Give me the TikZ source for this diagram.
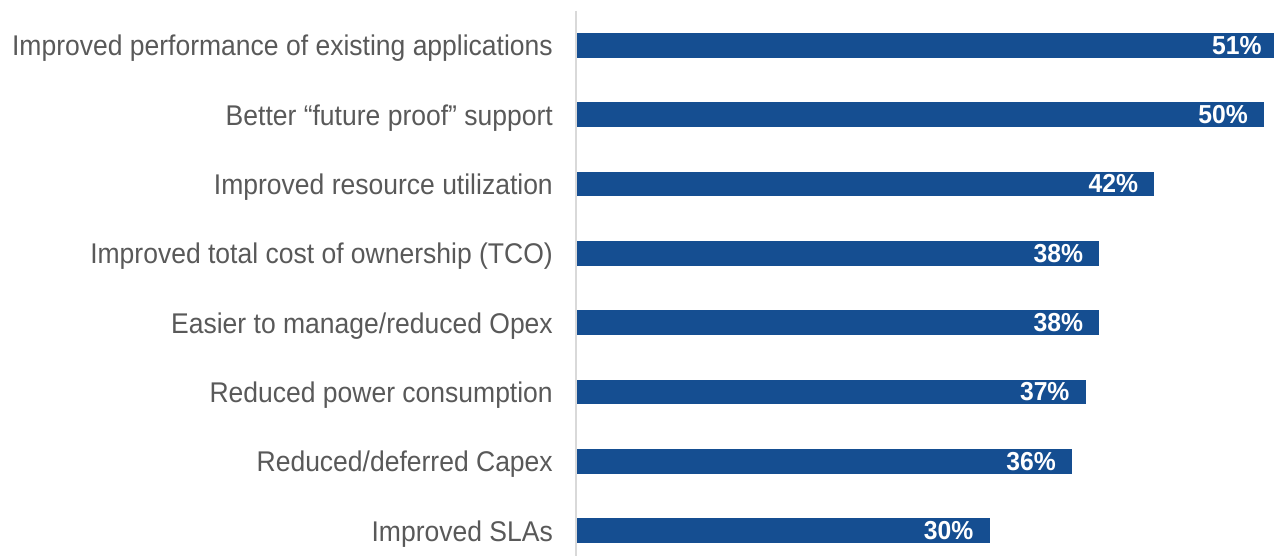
\documentclass[tikz,border=0pt]{standalone}
\usepackage{fontspec}
\setmainfont{Liberation Sans}
\newfontfamily\labfont[FakeStretch=0.93]{Liberation Sans}
\newfontfamily\pctfont[FakeStretch=0.95]{Liberation Sans}
\definecolor{barblue}{RGB}{21,78,145}
\definecolor{labgrey}{RGB}{89,89,89}
\definecolor{axisgrey}{RGB}{217,217,217}
\newcommand\mybarrow[3]{%
  \pgfmathsetmacro{\yc}{45.5+69.3*#1}%
  \pgfmathsetmacro{\xe}{578+13.72*#2}%
  \pgfmathsetmacro{\xb}{min(\xe,1274)}%
  \path[barbox] (577,\yc-12.3) rectangle (\xb,\yc+12.3);
  \node[catlabel] (lab#1) at (553,\yc+10.5) {#3};
  \node[pctlabel] (pct#1) at (\xe-16,\yc+8.8) {#2\%};
}
\begin{document}
\begin{tikzpicture}[x=1pt,y=-1pt,
  catlabel/.style={anchor=base east,inner sep=0pt,text=labgrey,font=\labfont\fontsize{28.5}{30}\selectfont},
  barbox/.style={fill=barblue,draw=none},
  pctlabel/.style={anchor=base east,inner sep=0pt,text=white,font=\pctfont\fontsize{26}{28}\selectfont\bfseries}]
\useasboundingbox (0,0) rectangle (1274,556);
\draw[axisgrey,line width=2pt] (576,11) -- (576,556);
\mybarrow{0}{51}{Improved performance of existing applications}
\mybarrow{1}{50}{Better “future proof” support}
\mybarrow{2}{42}{Improved resource utilization}
\mybarrow{3}{38}{Improved total cost of ownership (TCO)}
\mybarrow{4}{38}{Easier to manage/reduced Opex}
\mybarrow{5}{37}{Reduced power consumption}
\mybarrow{6}{36}{Reduced/deferred Capex}
\mybarrow{7}{30}{Improved SLAs}
\end{tikzpicture}
\end{document}
